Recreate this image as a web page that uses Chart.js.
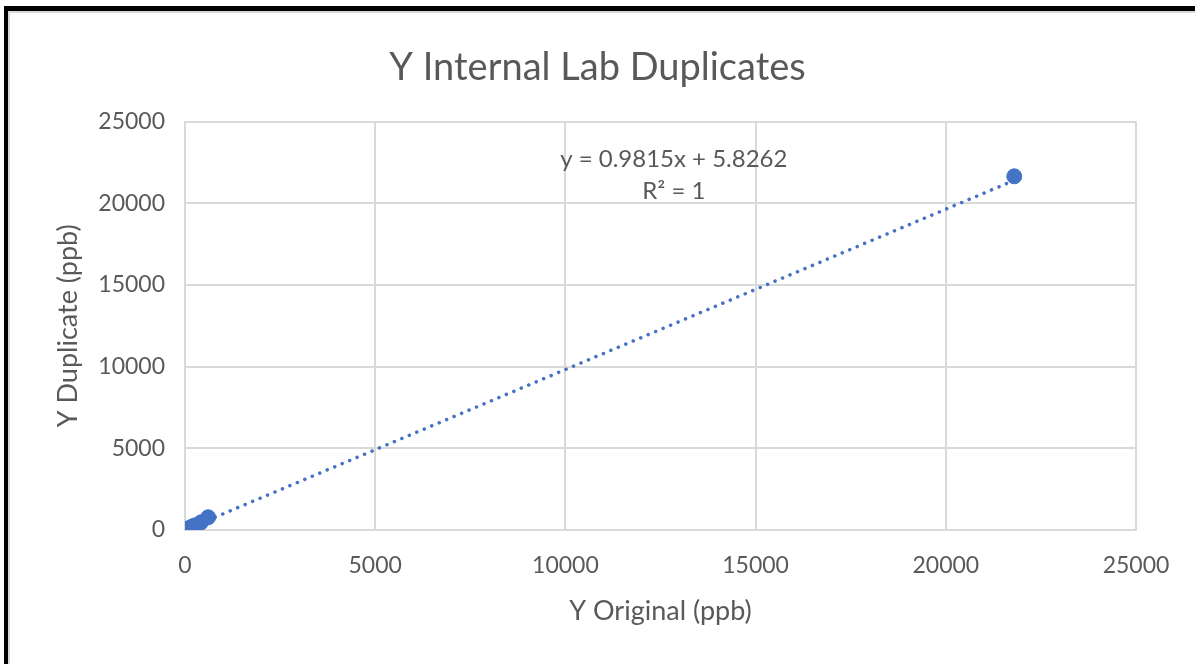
<!DOCTYPE html>
<html>
<head>
<meta charset="utf-8">
<script src="https://cdn.jsdelivr.net/npm/chart.js@4/dist/chart.umd.min.js"></script>
<style>
  html, body { margin: 0; padding: 0; background: #fff; overflow: hidden; }
  .frame { position: absolute; left: 4px; top: 6px; width: 1400px; height: 800px;
           border-top: 5px solid #000; border-left: 4px solid #000; }
  .frame-inner { width: 100%; height: 100%; border-top: 2px solid #d9d9d9; border-left: 2px solid #d9d9d9; }
  #wrap { position: absolute; left: 0; top: 0; width: 1195px; height: 664px; }
</style>
</head>
<body>
<div class="frame"><div class="frame-inner"></div></div>
<div id="wrap"><canvas id="dupChart" width="1195" height="664"></canvas></div>
<script>
// Y results, original vs duplicate (ppb)
const originalPpb  = [10, 30, 60, 110, 180, 250, 420, 610, 21800];
const duplicatePpb = [15, 35, 60, 120, 200, 280, 470, 780, 21650];

// linear fit reported for the pairs
const fitSlope = 0.9815;
const fitIntercept = 5.8262;
const fitR2 = 1;

const textGray = '#595959';
const gridGray = '#d9d9d9';
const blue = '#4472c4';
const fontFamily = 'Lato, "Open Sans", sans-serif';

const points = originalPpb.map((x, i) => ({ x: x, y: duplicatePpb[i] }));
const xMin = Math.min(...originalPpb);
const xMax = Math.max(...originalPpb);
const trend = [xMin, xMax].map(x => ({ x: x, y: fitSlope * x + fitIntercept }));

// writes the trendline equation inside the plot
const equationLabel = {
    id: 'equationLabel',
    afterDatasetsDraw(chart) {
        const { ctx, scales } = chart;
        const cx = scales.x.getPixelForValue(12850);
        ctx.save();
        ctx.fillStyle = textGray;
        ctx.font = '24px ' + fontFamily;
        ctx.textAlign = 'center';
        ctx.textBaseline = 'middle';
        ctx.fillText('y = ' + fitSlope + 'x + ' + fitIntercept, cx, scales.y.getPixelForValue(22700));
        ctx.fillText('R² = ' + fitR2, cx, scales.y.getPixelForValue(20750));
        ctx.restore();
    }
};

const tickFont = { family: fontFamily, size: 23 };
const axisTitleFont = { family: fontFamily, size: 27 };

new Chart(document.getElementById('dupChart'), {
    type: 'scatter',
    data: {
        datasets: [{
            label: 'Trend',
            type: 'line',
            data: trend,
            borderColor: blue,
            borderWidth: 3.5,
            borderDash: [0.1, 8],
            borderCapStyle: 'round',
            pointRadius: 0,
            fill: false
        }, {
            label: 'Y',
            data: points,
            backgroundColor: blue,
            borderColor: blue,
            pointRadius: 7.5,
            pointHoverRadius: 7.5
        }]
    },
    options: {
        responsive: false,
        animation: false,
        layout: { padding: 0 },
        plugins: {
            legend: { display: false },
            tooltip: { enabled: false },
            title: {
                display: true,
                text: 'Y Internal Lab Duplicates',
                color: textGray,
                font: { family: fontFamily, size: 38, weight: 'normal' },
                padding: { top: 45, bottom: 31 }
            }
        },
        scales: {
            x: {
                type: 'linear',
                min: 0,
                max: 25000,
                ticks: { stepSize: 5000, color: textGray, padding: 22, maxRotation: 0,
                         font: tickFont, callback: v => String(v) },
                grid: { color: gridGray, lineWidth: 2, drawTicks: false },
                border: { color: gridGray, width: 2 },
                title: { display: true, text: 'Y Original (ppb)', color: textGray,
                         font: axisTitleFont, padding: { top: 0, bottom: 37 } },
                afterFit(scale) { scale.height = 134; }
            },
            y: {
                min: 0,
                max: 25000,
                ticks: { stepSize: 5000, color: textGray, padding: 20,
                         font: tickFont, callback: v => String(v) },
                grid: { color: gridGray, lineWidth: 2, drawTicks: false },
                border: { color: gridGray, width: 2 },
                title: { display: true, text: 'Y Duplicate (ppb)', color: textGray,
                         font: axisTitleFont, padding: { top: 52, bottom: 0 } },
                afterFit(scale) { scale.width = 185; }
            },
            // empty strip on the right so the title stays centred on the canvas
            yRight: {
                position: 'right',
                min: 0,
                max: 25000,
                ticks: { display: false },
                grid: { display: false },
                border: { display: false },
                afterFit(scale) { scale.width = 59; }
            }
        }
    },
    plugins: [equationLabel]
});
</script>
</body>
</html>
